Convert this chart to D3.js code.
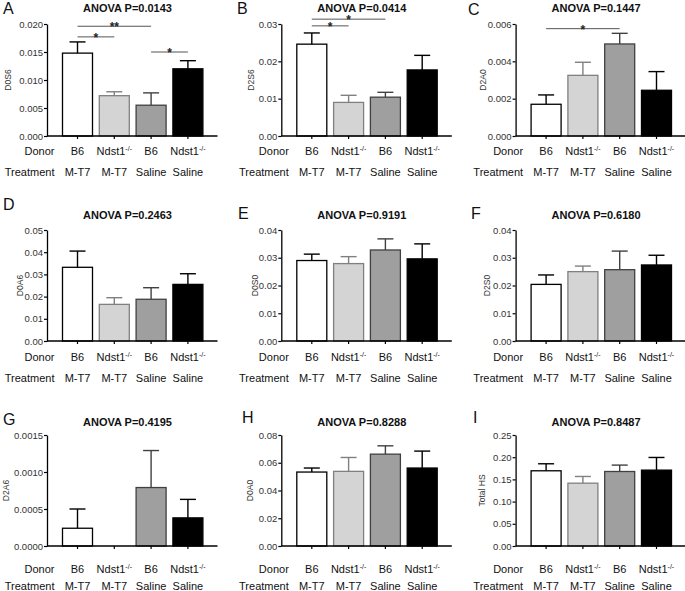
<!DOCTYPE html>
<html><head><meta charset="utf-8">
<script src="https://cdn.jsdelivr.net/npm/d3@7"></script>
<style>body{margin:0;background:#fff}svg{display:block;font-family:Arial,"Liberation Sans",sans-serif}</style>
</head><body><svg id="c" width="685" height="591"></svg>
<script>
// ---------- data ----------
const panelLetters = ["A","B","C","D","E","F","G","H","I"];
const measures = ["D0S6","D2S6","D2A0","D0A6","D0S0","D2S0","D2A6","D0A0","Total HS"];
const anovaP = ["0.0143","0.0414","0.1447","0.2463","0.9191","0.6180","0.4195","0.8288","0.8487"];
const donors = ["B6","Ndst1","B6","Ndst1"];
const donorSup = ["","-/-","","-/-"];
const treatments = ["M-T7","M-T7","Saline","Saline"];
const yMax = [0.020,0.03,0.006,0.05,0.04,0.04,0.0015,0.08,0.25];
const yTickStep = [0.005,0.01,0.002,0.01,0.01,0.01,0.0005,0.02,0.05];
const yDecimals = [3,2,3,2,2,2,4,2,2];
const means = [
  [0.0148,0.0072,0.0055,0.0120],
  [0.0246,0.0090,0.0104,0.0177],
  [0.0017,0.00325,0.00493,0.00245],
  [0.0332,0.0165,0.0188,0.0255],
  [0.0290,0.0279,0.0328,0.0296],
  [0.0204,0.0250,0.0257,0.0274],
  [0.00024,0,0.00079,0.00038],
  [0.0533,0.0538,0.0662,0.0562],
  [0.1694,0.1415,0.1678,0.1709]
];
const errors = [
  [0.0020,0.0007,0.0022,0.00145],
  [0.0030,0.0019,0.0013,0.0039],
  [0.0005,0.0007,0.00057,0.0010],
  [0.0073,0.0030,0.0052,0.0048],
  [0.0023,0.0025,0.0040,0.0054],
  [0.0034,0.0020,0.0067,0.0035],
  [0.00026,0,0.0005,0.00025],
  [0.0029,0.0100,0.0060,0.0122],
  [0.0158,0.0151,0.0144,0.0285]
];
// significance brackets: panel, from group, to group, height (data units), label
const brackets = [
  [0,0,2,0.0196,"**"],[0,0,1,0.0177,"*"],[0,2,3,0.0150,"*"],
  [1,0,2,0.0313,"*"],[1,0,1,0.0295,"*"],
  [2,0,2,0.00575,"*"]
];
const barFill = ["#ffffff","#d4d4d4","#9f9f9f","#000000"];
const barStroke = ["#000000","#808080","#404040","#000000"];

// ---------- layout ----------
const colC0 = [77.5, 311.8, 546.1];
const step = 36.8, bw = 30;
const rowTop = [24, 230, 435];
const rowBase = [136, 341, 546];
const donorY = [155, 361, 573];
const treatY = [176, 382, 590];
const titleY = [12, 219, 426];
const letterPos = [[3,14],[237,14],[468,15],[3,210],[238,219],[471,219],[3,425],[242,423],[473,423]];
const yLabelX = [8,251,483,20,255,487,6,250,482];

const svg = d3.select("#c");

panelLetters.forEach((L, p) => {
  const col = p % 3, row = Math.floor(p / 3);
  const c0 = colC0[col];
  const axisX = c0 - 30.5, axisEnd = c0 + 140;
  const g = svg.append("g");
  const idx = d3.range(4);
  const x = d3.scaleBand().domain(idx)
    .range([c0 - step/2, c0 + 3.5*step])
    .paddingInner(1 - bw/step).paddingOuter((1 - bw/step)/2);
  const y = d3.scaleLinear().domain([0, yMax[p]]).range([rowBase[row], rowTop[row]]);
  const ticks = d3.range(0, yMax[p] + yTickStep[p]/2, yTickStep[p]);

  // bars
  idx.forEach(i => {
    const v = means[p][i];
    if (v <= 0) return;
    g.append("rect")
      .attr("x", x(i)).attr("y", y(v))
      .attr("width", x.bandwidth()).attr("height", y(0) - y(v))
      .attr("fill", barFill[i]).attr("stroke", barStroke[i]).attr("stroke-width", 1.3);
  });
  // error bars
  idx.forEach(i => {
    const v = means[p][i], e = errors[p][i];
    if (e <= 0) return;
    const cx = x(i) + x.bandwidth()/2;
    g.append("line").attr("x1", cx).attr("x2", cx).attr("y1", y(v)).attr("y2", y(v+e))
      .attr("stroke", barStroke[i]).attr("stroke-width", 1.4);
    g.append("line").attr("x1", cx-8).attr("x2", cx+8).attr("y1", y(v+e)).attr("y2", y(v+e))
      .attr("stroke", barStroke[i]).attr("stroke-width", 1.4);
  });

  // y axis
  const ya = g.append("g").attr("transform", `translate(${axisX},0)`)
    .call(d3.axisLeft(y).tickValues(ticks).tickFormat(d => d.toFixed(yDecimals[p]))
      .tickSize(3).tickSizeOuter(0).tickPadding(1));
  ya.select(".domain").attr("stroke", "#000").attr("stroke-width", 1.3);
  ya.selectAll(".tick line").attr("stroke", "#000").attr("stroke-width", 1.2);
  ya.selectAll(".tick text").attr("font-size", 9.5).attr("fill", "#333")
    .attr("font-family", "Arial, 'Liberation Sans', sans-serif");

  // x axis
  const xa = g.append("g").attr("transform", `translate(0,${rowBase[row]})`)
    .call(d3.axisBottom(x).tickSize(3).tickFormat(""));
  xa.select(".domain").remove();
  xa.selectAll(".tick line").attr("stroke", "#000").attr("stroke-width", 1.2);
  g.append("line").attr("x1", axisX).attr("x2", axisEnd)
    .attr("y1", rowBase[row]).attr("y2", rowBase[row])
    .attr("stroke", "#000").attr("stroke-width", 1.3);

  // category labels
  g.append("text").attr("x", c0 - 23).attr("y", donorY[row]).attr("text-anchor", "end")
    .attr("font-size", 11).attr("fill", "#111").text("Donor");
  g.append("text").attr("x", c0 - 23).attr("y", treatY[row]).attr("text-anchor", "end")
    .attr("font-size", 11).attr("fill", "#111").text("Treatment");
  idx.forEach(i => {
    const cx = x(i) + x.bandwidth()/2;
    const t = g.append("text").attr("x", cx).attr("y", donorY[row]).attr("text-anchor", "middle")
      .attr("font-size", 11).attr("fill", "#111");
    t.append("tspan").text(donors[i]);
    if (donorSup[i]) t.append("tspan").attr("font-size", 7).attr("dy", -4).text(donorSup[i]);
    g.append("text").attr("x", cx).attr("y", treatY[row]).attr("text-anchor", "middle")
      .attr("font-size", 11).attr("fill", "#111").text(treatments[i]);
  });

  // y label
  const yc = (rowTop[row] + rowBase[row]) / 2;
  g.append("text").attr("transform", `translate(${yLabelX[p]},${yc}) rotate(-90)`)
    .attr("text-anchor", "middle").attr("dominant-baseline", "central")
    .attr("font-size", 8.5).attr("fill", "#333").text(measures[p]);

  // title
  g.append("text").attr("x", c0 + 50).attr("y", titleY[row]).attr("text-anchor", "middle")
    .attr("font-size", 11).attr("font-weight", "bold").attr("fill", "#111")
    .text("ANOVA P=" + anovaP[p]);
  // panel letter
  g.append("text").attr("x", letterPos[p][0]).attr("y", letterPos[p][1])
    .attr("font-size", 16).attr("fill", "#111").text(L);

  // brackets
  brackets.filter(b => b[0] === p).forEach(b => {
    const x1 = x(b[1]) + x.bandwidth()/2, x2 = x(b[2]) + x.bandwidth()/2;
    const by = y(b[3]);
    g.append("line").attr("x1", x1).attr("x2", x2).attr("y1", by).attr("y2", by)
      .attr("stroke", "#555").attr("stroke-width", 1);
    g.append("text").attr("x", (x1 + x2)/2).attr("y", by + 5).attr("text-anchor", "middle")
      .attr("font-size", 12).attr("font-weight", "bold").attr("fill", "#222").text(b[4]);
  });
});
</script></body></html>
